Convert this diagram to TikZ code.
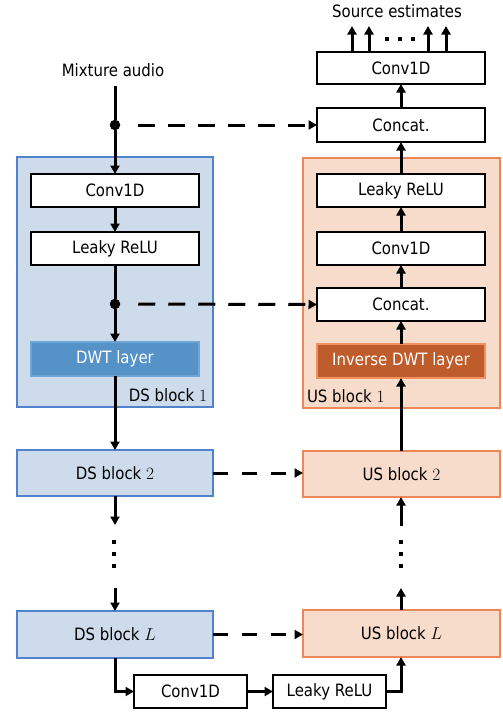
\documentclass[tikz,border=0pt]{standalone}
\usepackage{fontspec}
\setmainfont{DejaVu Sans}[FakeStretch=0.88]
\usetikzlibrary{arrows.meta,calc}
\definecolor{dsfill}{RGB}{205,219,235}
\definecolor{dsdraw}{RGB}{80,130,205}
\definecolor{dwtfill}{RGB}{84,146,200}
\definecolor{dwtdraw}{RGB}{110,165,215}
\definecolor{usfill}{RGB}{248,220,203}
\definecolor{usdraw}{RGB}{238,135,85}
\definecolor{idwtfill}{RGB}{191,92,44}
\definecolor{idwtdraw}{RGB}{240,145,95}
\begin{document}
\begin{tikzpicture}[x=1pt,y=-1pt,
  font=\fontsize{17}{20}\selectfont,
  every node/.style={inner sep=0pt,outer sep=0pt},
  layerbox/.style={draw=black,fill=white,line width=1.3pt,minimum width=168pt,minimum height=33pt},
  dsframe/.style={draw=dsdraw,fill=dsfill,line width=1.3pt,minimum width=196pt},
  usframe/.style={draw=usdraw,fill=usfill,line width=1.3pt,minimum width=197pt},
  dwtbox/.style={draw=dwtdraw,fill=dwtfill,text=white,line width=1.3pt,minimum width=168pt,minimum height=34pt},
  idwtbox/.style={draw=idwtdraw,fill=idwtfill,text=white,line width=1.3pt,minimum width=168pt,minimum height=34pt},
  smallbox/.style={draw=black,fill=white,line width=1.3pt,minimum width=113pt,minimum height=33pt},
  flow/.style={line width=3pt,-{Triangle[length=8.5pt,width=9pt]}},
  plain/.style={line width=3pt},
  skip/.style={line width=3pt,dash pattern=on 17pt off 13pt,-{Triangle[length=8.5pt,width=9pt]}},
  junction/.style={circle,fill=black,minimum size=10.5pt},
  dotmark/.style={fill=black,minimum size=3.8pt}
]
\useasboundingbox (0,0) rectangle (503,715);

% frames of block 1
\node[dsframe,minimum height=250pt] (dsb1) at (115,282) {};
\node[usframe,minimum height=250pt] (usb1) at (401.5,283) {};
\node[anchor=south east] (dsb1lab) at ($(dsb1.south east)+(-6,-5)$) {DS block $1$};
\node[anchor=south west] (usb1lab) at ($(usb1.south west)+(4,-5)$) {US block $1$};

% texts
\node (mix) at (113,70) {Mixture audio};
\node (src) at (397,11) {Source estimates};
\coordinate (mixstart) at (115,86);

% left column
\node[layerbox] (conv1) at (115,190.5) {Conv1D};
\node[layerbox] (lrelu1) at (115,248.5) {Leaky ReLU};
\node[dwtbox] (dwt) at (115,359) {DWT layer};
\node[junction] (dot1) at (115,125) {};
\node[junction] (dot2) at (115,304) {};

% right column
\node[layerbox,minimum height=32pt] (topconv) at (401,68) {Conv1D};
\node[layerbox,minimum height=34pt] (topcat) at (401,125) {Concat.};
\node[layerbox] (rlrelu) at (401,190.5) {Leaky ReLU};
\node[layerbox] (rconv) at (401,248.5) {Conv1D};
\node[layerbox] (rcat) at (401,304.5) {Concat.};
\node[idwtbox] (idwt) at (401,361) {Inverse DWT layer};

% lower blocks
\node[dsframe,minimum height=46pt] (ds2) at (115,473) {DS block $2$};
\node[usframe,minimum height=46pt] (us2) at (401.5,474) {US block $2$};
\node[dsframe,minimum height=47pt] (dsL) at (115,634.5) {DS block $L$};
\node[usframe,minimum height=47pt] (usL) at (401.5,633.5) {US block $L$};
\node[smallbox] (bconv) at (190.5,691.5) {Conv1D};
\node[smallbox] (brelu) at (329.5,691.5) {Leaky ReLU};

% vertical ellipses
\foreach \yy/\i in {542/a,554/b,566/c}{
  \node[dotmark] (ld\i) at (114,\yy) {};
  \node[dotmark] (rd\i) at (401,\yy) {};
}
\foreach \xx/\i in {387/a,400/b,413/c}{
  \node[dotmark] (td\i) at (\xx,39) {};
}
\coordinate (lgapa) at (115,525);
\coordinate (lgapb) at (115,588);
\coordinate (rgapa) at (401,526);
\coordinate (rgapb) at (401,588);

% main flow
\draw[plain] (mixstart) -- (dot1);
\draw[flow] (dot1) -- (conv1.north);
\draw[flow] (conv1) -- (lrelu1);
\draw[plain] (lrelu1) -- (dot2);
\draw[flow] (dot2) -- (dwt.north);
\draw[flow] (dwt.south) -- (ds2.north);
\draw[flow] (ds2.south) -- (lgapa);
\draw[flow] (lgapb) -- (dsL.north);
\draw[flow] (dsL.south) |- (bconv.west);
\draw[flow] (bconv) -- (brelu);
\draw[flow] (brelu.east) -| (rgapb |- usL.south);
\draw[flow] (rgapb |- usL.north) -- (rgapb);
\draw[flow] (rgapa) -- (rgapa |- us2.south);
\draw[flow] (idwt.south |- us2.north) -- (idwt.south);
\draw[flow] (idwt) -- (rcat);
\draw[flow] (rcat) -- (rconv);
\draw[flow] (rconv) -- (rlrelu);
\draw[flow] (rlrelu) -- (topcat);
\draw[flow] (topcat) -- (topconv);
\foreach \xx/\i in {352/a,369/b,428/c,446/d}{
  \coordinate (out\i) at (\xx,26);
  \draw[flow] (topconv.north -| out\i) -- (out\i);
}

% skip connections
\draw[skip,shorten <=18pt] (dot1) -- (topcat.west);
\draw[skip,shorten <=18pt] (dot2) -- (rcat.west);
\draw[skip,dash pattern=on 15pt off 14pt] (ds2.east) -- (us2.west |- ds2.east);
\draw[skip,dash pattern=on 15pt off 14pt] (dsL.east) -- (usL.west |- dsL.east);
\end{tikzpicture}
\end{document}
